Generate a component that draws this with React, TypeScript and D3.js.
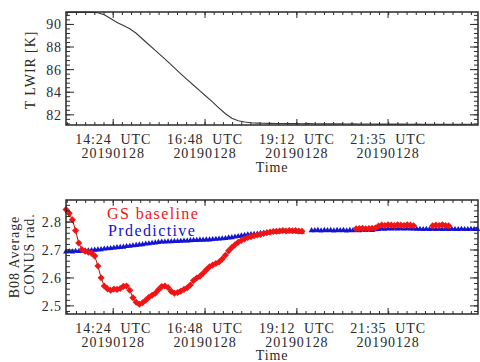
import React from "react";
import * as d3 from "d3";

// time axis in minutes since 00:00 UTC, 2019-01-28
const tickTimes = [864, 1008, 1152, 1295];
const tickHours = ["14:24  UTC", "16:48  UTC", "19:12  UTC", "21:35  UTC"];
const tickDate = "20190128";

// top panel: T LWIR [K], one sample every 10 min from 13:10
const tempStart = 790;
const tempStep = 10;
const tempValues = [
  91.05, 91.07, 91.08, 91.07, 91.05, 91.04, 90.85, 90.52, 90.18, 89.9, 89.62, 89.22,
  88.71, 88.2, 87.7, 87.2, 86.68, 86.15, 85.63, 85.12, 84.62, 84.12, 83.62, 83.12,
  82.6, 82.1, 81.7, 81.47, 81.36, 81.3, 81.27, 81.25, 81.24, 81.23, 81.23, 81.22,
  81.22, 81.21, 81.22, 81.21, 81.2, 81.21, 81.2, 81.2, 81.19, 81.2, 81.19, 81.19,
  81.19, 81.18, 81.19, 81.18, 81.18, 81.18, 81.17, 81.18, 81.17, 81.17, 81.17, 81.16,
  81.17, 81.16, 81.16, 81.16, 81.16,
];

// bottom panel: B08 average CONUS radiance, one sample every 5 min from 13:10
const radStart = 790;
const radStep = 5;
const gsBaseline = [
  2.845, 2.832, 2.808, 2.77, 2.725, 2.702, 2.696, 2.692, 2.689, 2.679, 2.643, 2.601,
  2.571, 2.561, 2.556, 2.56, 2.559, 2.562, 2.57, 2.571, 2.556, 2.529, 2.513, 2.506,
  2.511, 2.52, 2.531, 2.538, 2.545, 2.558, 2.569, 2.571, 2.566, 2.552, 2.545, 2.548,
  2.553, 2.559, 2.565, 2.575, 2.591, 2.6, 2.606, 2.617, 2.629, 2.64, 2.646, 2.652,
  2.657, 2.668, 2.681, 2.697, 2.709, 2.719, 2.728, 2.734, 2.74, 2.745, 2.748, 2.751,
  2.754, 2.756, 2.759, 2.762, 2.764, 2.766, 2.767, 2.768, 2.77, 2.768, 2.77, 2.769,
  2.77, 2.768, 2.767, null, null, null, null, null, null, null, null, null,
  null, null, null, null, null, null, null, 2.776, 2.777, 2.778, 2.776, 2.777,
  2.778, 2.779, 2.786, 2.789, 2.788, 2.79, 2.789, 2.788, 2.79, 2.789, 2.788, 2.79,
  2.789, 2.787, null, null, null, null, null, 2.787, 2.789, 2.788, 2.79, 2.788,
  2.787, null, null, null, null, null, null, null, null, null,
];
const predictive = [
  2.694, 2.695, 2.694, 2.696, 2.695, 2.696, 2.697, 2.698, 2.699, 2.7, 2.701, 2.702,
  2.704, 2.705, 2.706, 2.708, 2.709, 2.71, 2.711, 2.713, 2.714, 2.716, 2.717, 2.719,
  2.72, 2.722, 2.723, 2.725, 2.726, 2.728, 2.729, 2.729, 2.73, 2.73, 2.731, 2.731,
  2.732, 2.733, 2.733, 2.734, 2.735, 2.735, 2.736, 2.736, 2.737, 2.737, 2.738, 2.739,
  2.74, 2.741, 2.742, 2.744, 2.745, 2.747, 2.749, 2.751, 2.753, 2.755, 2.756, 2.757,
  2.758, 2.76, 2.761, 2.762, 2.763, 2.764, 2.765, 2.766, 2.767, 2.767, 2.766, 2.767,
  2.766, 2.765, 2.764, null, null, 2.77, 2.77, 2.771, 2.769, 2.771, 2.77, 2.771,
  2.769, 2.771, 2.77, 2.771, 2.769, 2.771, 2.77, 2.771, 2.77, 2.772, 2.771, 2.772,
  2.771, 2.773, 2.774, 2.776, 2.775, 2.777, 2.776, 2.777, 2.776, 2.777, 2.776, 2.777,
  2.776, 2.776, 2.775, 2.775, 2.774, 2.775, 2.774, 2.775, 2.774, 2.775, 2.774, 2.775,
  2.774, 2.775, 2.774, 2.774, 2.775, 2.774, 2.774, 2.775, 2.774, 2.774,
];

const tempTicks = [82, 84, 86, 88, 90];
const radTicks = [2.5, 2.6, 2.7, 2.8];

const W = 480;
const H = 362;
const FONT = '"Liberation Serif", "DejaVu Serif", Tinos, serif';
const INK = "#2a2a2a";
const RED = "#f01414";
const BLUE = "#1414d2";
const FS = 14;
const LS = 0.9;

const X0 = 66;
const X1 = 478;

type Pt = { t: number; v: number | null };

const Panel = ({
  top,
  bottom,
  yDomain,
  yTicks,
  yMinorStep,
  fmt,
  timeY,
  children,
}: {
  top: number;
  bottom: number;
  yDomain: [number, number];
  yTicks: number[];
  yMinorStep: number;
  fmt: (v: number) => string;
  timeY: number;
  children: (x: d3.ScaleLinear<number, number>, y: d3.ScaleLinear<number, number>) => React.ReactNode;
}) => {
  const x = d3.scaleLinear().domain([790, 1436]).range([X0, X1]);
  const y = d3.scaleLinear().domain(yDomain).range([bottom, top]);

  // minor x ticks: 10 per major interval
  const xMinor = d3.range(864 - 5 * 14.4, 1436, 14.4);
  const yMinor = d3.range(
    Math.ceil(yDomain[0] / yMinorStep) * yMinorStep,
    yDomain[1],
    yMinorStep
  );

  return (
    <g>
      {children(x, y)}
      {/* x ticks bottom and top */}
      {xMinor.map((t, i) => (
        <g key={"xm" + i} stroke={INK} strokeWidth={1}>
          <line x1={x(t)} x2={x(t)} y1={bottom} y2={bottom - 3} />
          <line x1={x(t)} x2={x(t)} y1={top} y2={top + 3} />
        </g>
      ))}
      {tickTimes.map((t, i) => (
        <g key={"xt" + i} style={{ fontSize: FS, letterSpacing: LS }} fill={INK}>
          <line x1={x(t)} x2={x(t)} y1={bottom} y2={bottom - 6} stroke={INK} />
          <line x1={x(t)} x2={x(t)} y1={top} y2={top + 6} stroke={INK} />
          <text x={x(t)} y={bottom + 18.5} textAnchor="middle" style={{ whiteSpace: "pre" }}>
            {tickHours[i]}
          </text>
          <text x={x(t)} y={bottom + 32.5} textAnchor="middle">
            {tickDate}
          </text>
        </g>
      ))}
      <text
        x={(X0 + X1) / 2}
        y={timeY}
        textAnchor="middle"
        fill={INK}
        style={{ fontSize: FS, letterSpacing: LS }}
      >
        Time
      </text>
      {/* y ticks left and right */}
      {yMinor.map((v, i) => (
        <g key={"ym" + i} stroke={INK} strokeWidth={1}>
          <line x1={X0} x2={X0 + 4} y1={y(v)} y2={y(v)} />
          <line x1={X1} x2={X1 - 4} y1={y(v)} y2={y(v)} />
        </g>
      ))}
      {yTicks.map((v, i) => (
        <g key={"yt" + i}>
          <line x1={X0} x2={X0 + 8} y1={y(v)} y2={y(v)} stroke={INK} />
          <line x1={X1} x2={X1 - 8} y1={y(v)} y2={y(v)} stroke={INK} />
          <text
            x={X0 - 4}
            y={y(v) + 5}
            textAnchor="end"
            fill={INK}
            style={{ fontSize: FS, letterSpacing: LS }}
          >
            {fmt(v)}
          </text>
        </g>
      ))}
      <rect
        x={X0}
        y={top}
        width={X1 - X0}
        height={bottom - top}
        fill="none"
        stroke={INK}
        strokeWidth={1.5}
      />
    </g>
  );
};

const App = () => {
  const tempPts: Pt[] = tempValues.map((v, i) => ({ t: tempStart + i * tempStep, v }));
  const gsPts: Pt[] = gsBaseline.map((v, i) => ({ t: radStart + i * radStep, v }));
  const prPts: Pt[] = predictive.map((v, i) => ({ t: radStart + i * radStep, v }));

  const diamond = d3.symbol().type(d3.symbolDiamond2).size(32)();
  const triangle = d3.symbol().type(d3.symbolTriangle).size(15)();

  return (
    <svg
      width={W}
      height={H}
      style={{ position: "absolute", left: 0, top: 0, background: "#fff", fontFamily: FONT }}
    >
      <Panel
        top={12}
        bottom={125}
        yDomain={[81.1, 91.1]}
        yTicks={tempTicks}
        yMinorStep={0.4}
        fmt={(v) => String(v)}
        timeY={172}
      >
        {(x, y) => {
          const line = d3
            .line<Pt>()
            .x((d) => x(d.t))
            .y((d) => y(d.v as number));
          return <path d={line(tempPts) || ""} fill="none" stroke="#3a3a3a" strokeWidth={1.1} />;
        }}
      </Panel>
      <text
        transform="translate(35,70) rotate(-90)"
        textAnchor="middle"
        fill={INK}
        style={{ fontSize: FS, letterSpacing: LS, whiteSpace: "pre" }}
      >
        T LWIR [K]
      </text>

      <Panel
        top={200}
        bottom={314}
        yDomain={[2.471, 2.879]}
        yTicks={radTicks}
        yMinorStep={0.02}
        fmt={(v) => v.toFixed(1)}
        timeY={359.5}
      >
        {(x, y) => {
          const line = d3
            .line<Pt>()
            .defined((d) => d.v != null)
            .x((d) => x(d.t))
            .y((d) => y(d.v as number));
          return (
            <g>
              <path d={line(prPts) || ""} fill="none" stroke={BLUE} strokeWidth={1} />
              {prPts
                .filter((d) => d.v != null)
                .map((d, i) => (
                  <path
                    key={"p" + i}
                    d={triangle || ""}
                    transform={`translate(${x(d.t)},${y(d.v as number)})`}
                    fill={BLUE}
                  />
                ))}
              <path d={line(gsPts) || ""} fill="none" stroke="#b01010" strokeWidth={1} />
              {gsPts
                .filter((d) => d.v != null)
                .map((d, i) => (
                  <path
                    key={"g" + i}
                    d={diamond || ""}
                    transform={`translate(${x(d.t)},${y(d.v as number)})`}
                    fill={RED}
                  />
                ))}
            </g>
          );
        }}
      </Panel>
      <g fill={INK} textAnchor="middle" style={{ fontSize: FS, letterSpacing: LS }}>
        <text transform="translate(19,257) rotate(-90)">B08 Average</text>
        <text transform="translate(34,254) rotate(-90)">CONUS rad.</text>
      </g>
      <g style={{ fontSize: 16, letterSpacing: 1.4 }}>
        <text x={107} y={218.5} fill={RED}>
          GS baseline
        </text>
        <text x={108} y={236} fill={BLUE}>
          Prdedictive
        </text>
      </g>
    </svg>
  );
};

export default App;
